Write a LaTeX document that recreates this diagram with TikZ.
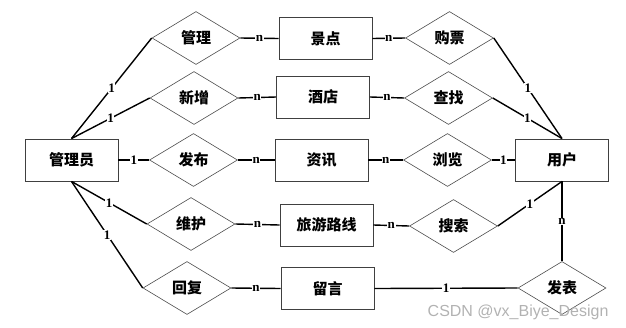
\documentclass[tikz,border=0pt]{standalone}
\usepackage{fontspec}
\setmainfont{Liberation Serif}
\newfontfamily\cjk{Noto Sans CJK SC}
\newfontfamily\wmfont{Liberation Sans}
\usetikzlibrary{shapes.geometric}
\tikzset{
  ent/.style={draw=black!75,line width=0.9pt,minimum width=93pt,minimum height=42pt,inner sep=0pt,font=\cjk\bfseries\fontsize{15}{15}\selectfont},
  rel/.style={diamond,draw=black!70,line width=0.6pt,minimum width=88pt,minimum height=53pt,inner sep=0pt,font=\cjk\bfseries\fontsize{15}{15}\selectfont},
  ln/.style={line width=1.4pt},
  card/.style={fill=white,inner sep=0.6pt,font=\bfseries\fontsize{13}{13}\selectfont},
}
\begin{document}
\begin{tikzpicture}[x=1pt,y=-1pt]
\useasboundingbox (0,0) rectangle (626,327);
% entities
\node[ent] (adm) at (71.5,160) {管理员};
\node[ent] (user) at (562,160) {用户};
\node[ent] (spot) at (325.5,38.5) {景点};
\node[ent] (hotel) at (323,97) {酒店};
\node[ent] (news) at (321.5,160) {资讯};
\node[ent] (route) at (326.5,225) {旅游路线};
\node[ent] (msg) at (327.5,288.5) {留言};
% relations, admin side
\node[rel] (manage) at (196,38) {管理};
\node[rel] (addnew) at (194,98) {新增};
\node[rel] (publish) at (193.5,160) {发布};
\node[rel] (maint) at (191,224) {维护};
\node[rel] (reply) at (187,288) {回复};
% relations, user side
\node[rel] (buy) at (449.5,38) {购票};
\node[rel] (find) at (448.5,98) {查找};
\node[rel] (browse) at (447.5,160) {浏览};
\node[rel] (search) at (453.5,226) {搜索};
\node[rel] (post) at (562,288) {发表};
% admin links
\draw[ln] (adm.north) -- node[card]{1} (manage.west);
\draw[ln] (adm.north) -- node[card]{1} (addnew.west);
\draw[ln] (adm.east) -- node[card]{1} (publish.west);
\draw[ln] (adm.south) -- node[card]{1} (maint.west);
\draw[ln] (adm.south) -- node[card]{1} (reply.west);
\draw[ln] (manage.east) -- node[card]{n} (spot.west);
\draw[ln] (addnew.east) -- node[card]{n} (hotel.west);
\draw[ln] (publish.east) -- node[card]{n} (news.west);
\draw[ln] (maint.east) -- node[card]{n} (route.west);
\draw[ln] (reply.east) -- node[card]{n} (msg.west);
% user links
\draw[ln] (spot.east) -- node[card]{n} (buy.west);
\draw[ln] (hotel.east) -- node[card]{n} (find.west);
\draw[ln] (news.east) -- node[card]{n} (browse.west);
\draw[ln] (route.east) -- node[card]{n} (search.west);
\draw[ln] (msg.east) -- node[card]{1} (post.west);
\draw[ln] (buy.east) -- node[card]{1} (user.north);
\draw[ln] (find.east) -- node[card]{1} (user.north);
\draw[ln] (browse.east) -- node[card]{1} (user.west);
\draw[ln] (search.east) -- node[card]{1} (user.south);
\draw[ln] (post.north) -- node[card]{n} (user.south);
\node[text=black!30,font=\wmfont\fontsize{16}{16}\selectfont,anchor=base east] (wm) at (612,316) {CSDN @vx\_Biye\_Design};
\end{tikzpicture}
\end{document}
